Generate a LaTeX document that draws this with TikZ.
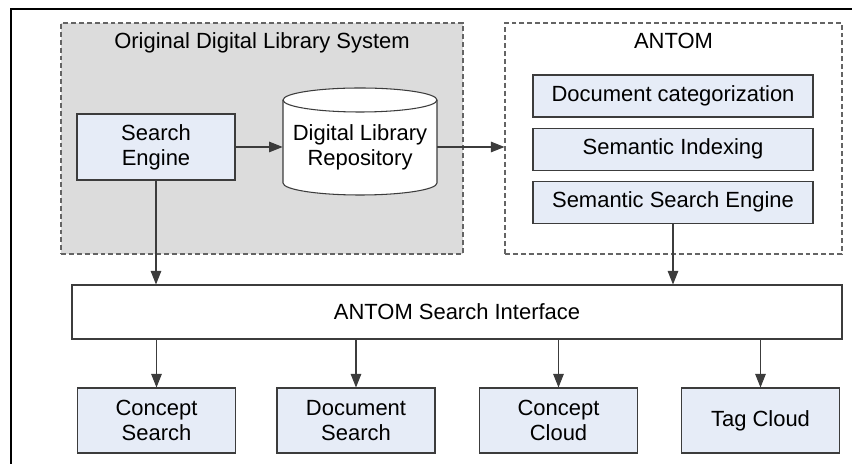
\documentclass[tikz,border=0pt]{standalone}
\usepackage{fontspec}
\setmainfont{Liberation Sans}
\usetikzlibrary{positioning,arrows.meta}

\definecolor{boxblue}{RGB}{230,236,247}
\definecolor{sysgrey}{RGB}{220,220,220}
\definecolor{dashgrey}{RGB}{100,100,100}
\definecolor{linegrey}{RGB}{60,60,60}

\begin{document}
\begin{tikzpicture}[
    txt/.style={font=\fontsize{12.5}{14.2}\selectfont,align=center},
    block/.style={txt,draw=linegrey,line width=0.6pt,fill=boxblue,inner sep=0pt},
    group/.style={draw=dashgrey,line width=0.6pt,dash pattern=on 2.8pt off 1.7pt,inner sep=0pt},
    conn/.style={draw=linegrey,line width=0.6pt,-{Triangle[length=2.7mm,width=2.1mm]}}
  ]
    \useasboundingbox (0,0) rectangle (17.04,-9.28);
    %% Frame
    \draw[line width=1.1pt] (0.22,-9.28) -- (0.22,-0.18) -- (17.04,-0.18);
    %% Groups
    \node[group,fill=sysgrey,minimum width=8.04cm,minimum height=4.62cm] (orig) at (5.24,-2.77) {};
    \node[group,fill=white,minimum width=6.74cm,minimum height=4.62cm] (antom) at (13.47,-2.77) {};
    \node[txt,below=0.08cm of orig.north] (origtitle) {Original Digital Library System};
    \node[txt,below=0.08cm of antom.north] (antomtitle) {ANTOM};
    %% Original system
    \node[block,minimum width=3.16cm,minimum height=1.32cm] (se) at (3.12,-2.94) {Search\\Engine};
    %% cylinder for the repository
    \coordinate (repoc) at (7.2,-2.94);
    \draw[draw=linegrey,line width=0.6pt,fill=white] ([shift={(-1.54,0.94)}]repoc) -- ++(0,-1.66)
        arc[start angle=180,end angle=360,x radius=1.54,y radius=0.24] -- ++(0,1.66)
        arc[start angle=0,end angle=180,x radius=1.54,y radius=0.24] -- cycle;
    \draw[draw=linegrey,line width=0.6pt] ([shift={(-1.54,0.94)}]repoc)
        arc[start angle=180,end angle=360,x radius=1.54,y radius=0.24];
    \node[txt,minimum width=3.08cm,inner xsep=0pt] (repo) at (repoc) {Digital Library\\Repository};
    %% ANTOM modules
    \node[block,minimum width=5.6cm,minimum height=0.84cm] (docc) at (13.46,-1.92) {Document categorization};
    \node[block,minimum width=5.6cm,minimum height=0.84cm,below=0.2cm of docc] (semidx) {Semantic Indexing};
    \node[block,minimum width=5.6cm,minimum height=0.84cm,below=0.2cm of semidx] (sse) {Semantic Search Engine};
    %% Interface
    \node[block,fill=white,minimum width=15.4cm,minimum height=1.08cm] (iface) at (9.14,-6.24) {ANTOM Search Interface};
    %% Front ends
    \node[block,minimum width=3.16cm,minimum height=1.3cm] (csearch) at (3.13,-8.41) {Concept\\Search};
    \node[block,minimum width=3.16cm,minimum height=1.3cm] (dsearch) at (7.12,-8.41) {Document\\Search};
    \node[block,minimum width=3.16cm,minimum height=1.3cm] (ccloud) at (11.17,-8.41) {Concept\\Cloud};
    \node[block,minimum width=3.16cm,minimum height=1.3cm] (tcloud) at (15.21,-8.41) {Tag Cloud};
    %% Arrows
    \draw[conn] (se.east) -- (repo.west);
    \draw[conn] (repo.east) -- (repo.east -| antom.west);
    \draw[conn] (se.south) -- (se.south |- iface.north);
    \draw[conn] (sse.south) -- (sse.south |- iface.north);
    \draw[conn] (csearch.north |- iface.south) -- (csearch.north);
    \draw[conn] (dsearch.north |- iface.south) -- (dsearch.north);
    \draw[conn] (ccloud.north |- iface.south) -- (ccloud.north);
    \draw[conn] (tcloud.north |- iface.south) -- (tcloud.north);
\end{tikzpicture}
\end{document}
